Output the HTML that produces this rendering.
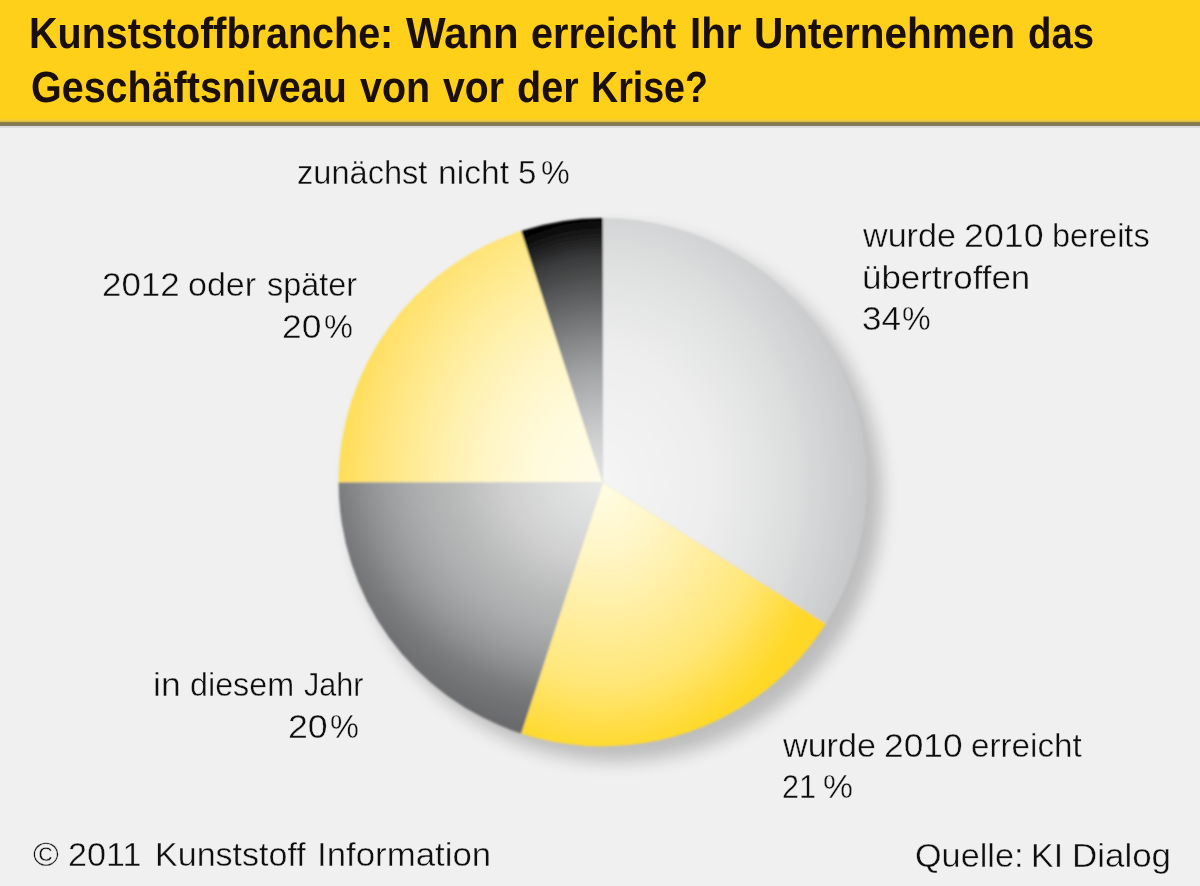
<!DOCTYPE html>
<html lang="de"><head><meta charset="utf-8"><title>Kunststoffbranche</title>
<style>
html,body{margin:0;padding:0}
body{width:1200px;height:886px;overflow:hidden;background:#f0f0f0;position:relative;font-family:"Liberation Sans",sans-serif;color:#1c1c1c}
.band{position:absolute;left:0;top:0;width:1200px;height:122px;background:linear-gradient(to bottom,#ffd01a 0,#ffd01a 118px,#f2cc34 120px,#d9bb46 122px)}
.rule{position:absolute;left:0;top:122px;width:1200px;height:4px;background:linear-gradient(to bottom,#8b7c3e,#7f786a)}
.rule2{position:absolute;left:0;top:126px;width:1200px;height:2px;background:#dcdcdc}
.t{position:absolute;white-space:nowrap;line-height:1;transform-origin:0 0}
.r{transform-origin:100% 0}
.h{font-weight:bold;font-size:43.6px;text-rendering:geometricPrecision;color:#1a0f0a}
.l{font-size:33px;color:#0e0e0e;-webkit-text-stroke:0.4px #f0f0f0}
svg{position:absolute;left:0;top:0}
</style></head><body>
<div class="band"></div><div class="rule"></div><div class="rule2"></div>
<svg width="1200" height="886" viewBox="0 0 1200 886">
<defs>
<radialGradient id="gr1" gradientUnits="userSpaceOnUse" cx="602.8" cy="482.2" r="264.2" fx="602.8" fy="482.2" gradientTransform="translate(602.8 482.2) scale(1 1.2) translate(-602.8 -482.2)"><stop offset="0" stop-color="#f5f5f5"/><stop offset="0.4" stop-color="#eeeeee"/><stop offset="0.7" stop-color="#dedfdf"/><stop offset="1" stop-color="#c6c7c9"/></radialGradient>
<radialGradient id="gr2" gradientUnits="userSpaceOnUse" cx="602.8" cy="482.2" r="264.2" fx="602.8" fy="482.2" gradientTransform="translate(602.8 482.2) scale(1 1.2) translate(-602.8 -482.2)"><stop offset="0" stop-color="#fffce4"/><stop offset="0.214" stop-color="#fff6c8"/><stop offset="0.427" stop-color="#ffeea0"/><stop offset="0.641" stop-color="#ffe676"/><stop offset="0.769" stop-color="#ffde48"/><stop offset="0.855" stop-color="#ffd92a"/><stop offset="1" stop-color="#ffd520"/></radialGradient>
<radialGradient id="gr3" gradientUnits="userSpaceOnUse" cx="582.8" cy="442.2" r="290" fx="602.8" fy="482.2"><stop offset="0" stop-color="#e6e7e7"/><stop offset="0.17" stop-color="#dbdcdc"/><stop offset="0.32" stop-color="#cfcfd0"/><stop offset="0.48" stop-color="#b9baba"/><stop offset="0.6" stop-color="#adaeaf"/><stop offset="0.7" stop-color="#9e9fa0"/><stop offset="0.78" stop-color="#8e8f91"/><stop offset="0.86" stop-color="#7b7c7e"/><stop offset="0.93" stop-color="#717274"/><stop offset="1" stop-color="#6a6b6d"/></radialGradient>
<radialGradient id="gr4" gradientUnits="userSpaceOnUse" cx="602.8" cy="482.2" r="264.2" fx="602.8" fy="482.2" gradientTransform="translate(602.8 482.2) scale(1 1.2) translate(-602.8 -482.2)"><stop offset="0" stop-color="#fffce8"/><stop offset="0.25" stop-color="#fffadc"/><stop offset="0.46" stop-color="#fff5c4"/><stop offset="0.67" stop-color="#ffeea0"/><stop offset="0.89" stop-color="#ffe273"/><stop offset="1" stop-color="#ffde55"/></radialGradient>
<radialGradient id="gr5" gradientUnits="userSpaceOnUse" cx="602.8" cy="482.2" r="264.2" fx="602.8" fy="482.2" gradientTransform="translate(602.8 482.2) scale(1 1.2) translate(-602.8 -482.2)"><stop offset="0" stop-color="#e6e6e6"/><stop offset="0.168" stop-color="#cacbcc"/><stop offset="0.352" stop-color="#a2a4a5"/><stop offset="0.528" stop-color="#707273"/><stop offset="0.712" stop-color="#3a3b3c"/><stop offset="0.796" stop-color="#141414"/><stop offset="0.838" stop-color="#000"/><stop offset="1" stop-color="#000"/></radialGradient>
<filter id="sh" x="-20%" y="-20%" width="140%" height="140%"><feGaussianBlur stdDeviation="9"/></filter>
<filter id="soft" x="-5%" y="-5%" width="110%" height="110%"><feGaussianBlur stdDeviation="1"/></filter>
</defs>
<circle cx="615.8" cy="495.2" r="266.2" fill="#000" opacity="0.21" filter="url(#sh)"/>
<g filter="url(#soft)">
<path d="M602.80,482.20 L602.80,218.00 A264.2,264.2 0 0 1 825.87,623.77 Z" fill="url(#gr1)"/>
<path d="M602.80,482.20 L825.87,623.77 A264.2,264.2 0 0 1 521.16,733.47 Z" fill="url(#gr2)"/>
<path d="M602.80,482.20 L521.16,733.47 A264.2,264.2 0 0 1 338.60,482.20 Z" fill="url(#gr3)"/>
<path d="M602.80,482.20 L338.60,482.20 A264.2,264.2 0 0 1 521.16,230.93 Z" fill="url(#gr4)"/>
<path d="M602.80,482.20 L521.16,230.93 A264.2,264.2 0 0 1 602.80,218.00 Z" fill="url(#gr5)"/>
</g>
</svg>
<div class="t h" id="a1" style="left:28.92px;top:12.9px;transform:scaleX(0.9061)">Kunststoffbranche:</div>
<div class="t h" id="a2" style="left:405.79px;top:12.9px;transform:scaleX(0.9628)">Wann</div>
<div class="t h" id="a3" style="left:531.42px;top:12.9px;transform:scaleX(0.9082)">erreicht</div>
<div class="t h" id="a4" style="left:689.58px;top:12.9px;transform:scaleX(0.9224)">Ihr</div>
<div class="t h" id="a5" style="left:753.63px;top:12.9px;transform:scaleX(0.9292)">Unternehmen</div>
<div class="t h" id="a6" style="left:1028.45px;top:12.9px;transform:scaleX(0.8788)">das</div>
<div class="t h" id="b1" style="left:30.57px;top:66.9px;transform:scaleX(0.9053)">Geschäftsniveau</div>
<div class="t h" id="b2" style="left:359.99px;top:66.9px;transform:scaleX(0.9051)">von</div>
<div class="t h" id="b3" style="left:443.37px;top:66.9px;transform:scaleX(0.8984)">vor</div>
<div class="t h" id="b4" style="left:516.66px;top:66.9px;transform:scaleX(0.9083)">der</div>
<div class="t h" id="b5" style="left:590.89px;top:66.9px;transform:scaleX(0.8622)">Krise?</div>
<div class="t l" id="c1" style="left:296.76px;top:156.4px;transform:scaleX(0.9874)">zunächst</div>
<div class="t l" id="c2" style="left:437.7px;top:156.4px;transform:scaleX(1.0187)">nicht</div>
<div class="t l" id="c3" style="left:517.96px;top:156.4px;transform:scaleX(1.0031)">5</div>
<div class="t l" id="c4" style="left:540.75px;top:156.4px;transform:scaleX(0.9785)">%</div>
<div class="t l" id="d1" style="left:102.15px;top:267.8px;transform:scaleX(1.0572)">2012</div>
<div class="t l" id="d2" style="left:188.45px;top:267.8px;transform:scaleX(1.0313)">oder</div>
<div class="t l" id="d3" style="left:266.52px;top:267.8px;transform:scaleX(0.9814)">später</div>
<div class="t l" id="e1" style="left:281.74px;top:309.9px;transform:scaleX(1.073)">20</div>
<div class="t l" id="e2" style="left:324.21px;top:309.9px;transform:scaleX(0.9841)">%</div>
<div class="t l" id="f1" style="left:152.91px;top:667.9px;transform:scaleX(1.0763)">in</div>
<div class="t l" id="f2" style="left:190.13px;top:667.9px;transform:scaleX(0.9786)">diesem</div>
<div class="t l" id="f3" style="left:303.95px;top:667.9px;transform:scaleX(0.9254)">Jahr</div>
<div class="t l" id="ff1" style="left:288.42px;top:709.8px;transform:scaleX(1.0817)">20</div>
<div class="t l" id="ff2" style="left:330.34px;top:709.8px;transform:scaleX(0.9841)">%</div>
<div class="t l" id="g1" style="left:863.04px;top:218.6px;transform:scaleX(1.0341)">wurde</div>
<div class="t l" id="g2" style="left:963.72px;top:218.6px;transform:scaleX(1.0838)">2010</div>
<div class="t l" id="g3" style="left:1051.58px;top:218.6px;transform:scaleX(0.9861)">bereits</div>
<div class="t l" id="h1" style="left:862.46px;top:260.6px;transform:scaleX(1.0583)">übertroffen</div>
<div class="t l" id="i1" style="left:861.81px;top:301.6px;transform:scaleX(1.0614)">34</div>
<div class="t l" id="i2" style="left:902.38px;top:301.6px;transform:scaleX(0.9766)">%</div>
<div class="t l" id="j1" style="left:783.04px;top:728.8px;transform:scaleX(1.0341)">wurde</div>
<div class="t l" id="j2" style="left:884.13px;top:728.8px;transform:scaleX(1.0712)">2010</div>
<div class="t l" id="j3" style="left:971.49px;top:728.8px;transform:scaleX(1.0069)">erreicht</div>
<div class="t l" id="k1" style="left:782.16px;top:770.2px;transform:scaleX(0.9256)">21</div>
<div class="t l" id="k2" style="left:823.35px;top:770.2px;transform:scaleX(1.0211)">%</div>
<div class="t l" id="l1" style="left:33.22px;top:838.15px;transform:scaleX(1.063)">©</div>
<div class="t l" id="l2" style="left:68.49px;top:838.15px;transform:scaleX(1.034)">2011</div>
<div class="t l" id="l3" style="left:154.97px;top:838.15px;transform:scaleX(1.0314)">Kunststoff</div>
<div class="t l" id="l4" style="left:316.83px;top:838.15px;transform:scaleX(1.0547)">Information</div>
<div class="t l" id="m1" style="left:914.63px;top:839.1px;transform:scaleX(1.0371)">Quelle:</div>
<div class="t l" id="m2" style="left:1031.14px;top:839.1px;transform:scaleX(1.028)">KI</div>
<div class="t l" id="m3" style="left:1071.59px;top:839.1px;transform:scaleX(1.0586)">Dialog</div>
</body></html>
